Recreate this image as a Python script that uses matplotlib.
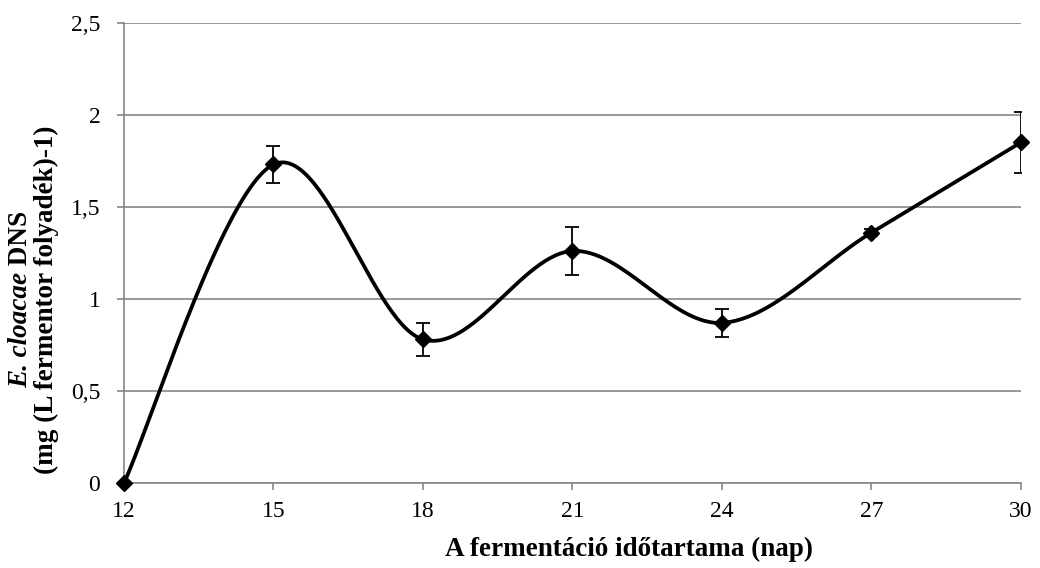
import numpy as np
import matplotlib
matplotlib.use('Agg')
import matplotlib.pyplot as plt

plt.rcParams['font.family'] = ['Liberation Serif', 'DejaVu Serif']

# fermentation day, DNA amount and its standard deviation
days = [12, 15, 18, 21, 24, 27, 30]
dna = [0.0, 1.73, 0.78, 1.26, 0.87, 1.36, 1.85]
dna_err = [0.0, 0.10, 0.09, 0.13, 0.077, 0.02, 0.165]
y_ticks = [0, 0.5, 1, 1.5, 2, 2.5]
y_ticklabels = ['0', '0,5', '1', '1,5', '2', '2,5']

GRID = '#868686'


def smooth_curve(x, y, n=60):
    # Catmull-Rom style cubic Bezier through every point
    px = np.r_[x[0], x, x[-1]].astype(float)
    py = np.r_[y[0], y, y[-1]].astype(float)
    t = np.linspace(0, 1, n)
    xs, ys = [], []
    for i in range(1, len(px) - 2):
        p0 = np.array([px[i], py[i]])
        p3 = np.array([px[i + 1], py[i + 1]])
        c1 = p0 + (p3 - np.array([px[i - 1], py[i - 1]])) / 6
        c2 = p3 - (np.array([px[i + 2], py[i + 2]]) - p0) / 6
        b = ((1 - t) ** 3)[:, None] * p0 + (3 * (1 - t) ** 2 * t)[:, None] * c1 \
            + (3 * (1 - t) * t ** 2)[:, None] * c2 + (t ** 3)[:, None] * p3
        xs.append(b[:, 0])
        ys.append(b[:, 1])
    return np.concatenate(xs), np.concatenate(ys)


fig = plt.figure(figsize=(10.4, 5.68), dpi=100)
ax = fig.add_axes([0.1192, 0.1496, 0.8625, 0.8104])

ax.set_xlim(12, 30)
ax.set_ylim(0, 2.5)
ax.set_yticks(y_ticks)
ax.set_yticklabels(y_ticklabels)
ax.set_xticks(days)
ax.set_xticklabels([str(d) for d in days])
ax.grid(axis='y', color=GRID, linewidth=1.2)
ax.set_axisbelow(True)

for s in ['top', 'right']:
    ax.spines[s].set_visible(False)
for s in ['left', 'bottom']:
    ax.spines[s].set_color(GRID)
    ax.spines[s].set_linewidth(1.2)
ax.tick_params(axis='both', colors=GRID, width=1.2, length=5, labelcolor='black', labelsize=17)
ax.tick_params(axis='y', pad=12)
ax.tick_params(axis='x', pad=8)

sx, sy = smooth_curve(days, dna)
ax.plot(sx, sy, color='black', linewidth=2.7, clip_on=False, zorder=3)
ax.errorbar(days[1:], dna[1:], yerr=dna_err[1:], fmt='none', ecolor='black',
            elinewidth=1.3, capsize=5, capthick=1.3, zorder=4)
ax.plot(days, dna, linestyle='none', marker='D', markersize=8.5, color='black',
        clip_on=False, zorder=5)

fig.text(0.605, 1 - 549 / 568, 'A fermentáció időtartama (nap)', fontsize=19.5,
         fontweight='bold', ha='center', va='center')

# first y-label line: italic species name followed by upright "DNS"
yc = 0.472
t_it = fig.text(0.020, yc, 'E. cloacae', rotation=90, fontsize=19.5, fontweight='bold',
                fontstyle='italic', ha='center', va='bottom')
t_rm = fig.text(0.020, yc, '\u00a0DNS', rotation=90, fontsize=19.5, fontweight='bold',
                ha='center', va='bottom')
r = fig.canvas.get_renderer()
h_it = t_it.get_window_extent(r).height / fig.bbox.height
h_rm = t_rm.get_window_extent(r).height / fig.bbox.height
start = yc - (h_it + h_rm) / 2
t_it.set_y(start)
t_rm.set_y(start + h_it)

fig.text(0.045, yc, '(mg (L fermentor folyadék)-1)', rotation=90, fontsize=19.5,
         fontweight='bold', ha='center', va='center')

fig.savefig('out.png', dpi=100)
